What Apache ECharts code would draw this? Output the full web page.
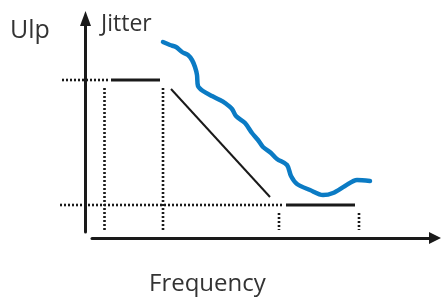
<!DOCTYPE html>
<html>
<head>
<meta charset="utf-8">
<script src="https://cdn.jsdelivr.net/npm/echarts@6/dist/echarts.min.js"></script>
<style>
  html, body { margin: 0; padding: 0; background: #fff; }
  #chart { width: 441px; height: 299px; }
</style>
</head>
<body>
<div id="chart"></div>
<script>
// schematic units: x = frequency, y = jitter (UI)
var upperLevel = 160;
var lowerLevel = 35;

var upperDotX = [12, 58];
var upperSolidX = [61, 110];
var lowerDotX = [10, 232];
var lowerSolidX = [236, 305];

var upperCornerX = [54.5, 113];
var upperCornerY = [152, 9];
var lowerCornerX = [229, 309];
var lowerCornerY = [27, 10];

var slopeX = [121, 220];
var slopeY = [151, 43];

var measuredX = [113, 120, 126, 132, 138, 142, 145, 147, 148, 153, 162, 170, 175, 182, 186,
  195, 202, 208, 213, 221, 227, 237, 241, 247, 260, 273, 283, 295, 307, 320];
var measuredY = [198, 195, 193, 188, 185, 180, 173, 165, 154, 149, 144, 140, 137, 131, 124,
  117, 107, 100, 93, 87, 81, 75, 64, 56, 50, 45, 47, 54, 60, 59];

var INK = '#1a1a1a';
var BLUE = '#0b7bc4';
var DOTS = [2, 2];

function zip(xs, ys) {
  return xs.map(function (x, i) { return [x, ys[i]]; });
}
function hLine(xs, y) {
  return [[xs[0], y], [xs[1], y]];
}
function vLine(x, ys) {
  return [[x, ys[0]], [x, ys[1]]];
}
function seg(data, width, type, color) {
  return {
    type: 'line',
    xAxisIndex: 0,
    yAxisIndex: 0,
    data: data,
    symbol: 'none',
    silent: true,
    lineStyle: { color: color || INK, width: width, type: type || 'solid', cap: 'butt' }
  };
}
function label(text, left, top, size) {
  return {
    text: text, left: left, top: top, padding: 0,
    textStyle: { fontFamily: 'Open Sans', fontWeight: 'normal', fontSize: size, color: '#333' }
  };
}

var hidden = { show: false };
var chart = echarts.init(document.getElementById('chart'));
chart.setOption({
  animation: false,
  title: [
    label('Ulp', 10, 18, 25),
    label('Jitter', 101, 13, 23),
    label('Frequency', 149, 272, 24)
  ],
  grid: [
    { left: 50, top: 0, width: 391, height: 240 },
    { left: 92, right: 6, top: 0, bottom: 61 },
    { left: 85.5, top: 18.5, width: 10, bottom: 67 }
  ],
  xAxis: [
    { type: 'value', gridIndex: 0, min: 0, max: 391, show: false },
    {
      type: 'value', gridIndex: 1, min: 0, max: 1,
      axisLine: { show: true, symbol: ['none', 'triangle'], symbolSize: [12, 12], lineStyle: { color: INK, width: 3 } },
      axisTick: hidden, axisLabel: hidden, splitLine: hidden
    },
    { type: 'value', gridIndex: 2, min: 0, max: 1, show: false }
  ],
  yAxis: [
    { type: 'value', gridIndex: 0, min: 0, max: 240, show: false },
    { type: 'value', gridIndex: 1, min: 0, max: 1, show: false },
    {
      type: 'value', gridIndex: 2, min: 0, max: 1,
      axisLine: { show: true, symbol: ['none', 'triangle'], symbolSize: [11, 15], lineStyle: { color: INK, width: 3 } },
      axisTick: hidden, axisLabel: hidden, splitLine: hidden
    }
  ],
  series: [
    seg(hLine(upperDotX, upperLevel), 2.6, DOTS),
    seg(hLine(upperSolidX, upperLevel), 3),
    seg(vLine(upperCornerX[0], upperCornerY), 2.6, DOTS),
    seg(vLine(upperCornerX[1], upperCornerY), 2.6, DOTS),
    seg(zip(slopeX, slopeY), 2),
    seg(hLine(lowerDotX, lowerLevel), 2.6, DOTS),
    seg(hLine(lowerSolidX, lowerLevel), 3),
    seg(vLine(lowerCornerX[0], lowerCornerY), 2.6, DOTS),
    seg(vLine(lowerCornerX[1], lowerCornerY), 2.6, DOTS),
    {
      type: 'line',
      data: zip(measuredX, measuredY),
      symbol: 'none',
      smooth: 0.3,
      silent: true,
      lineStyle: { color: BLUE, width: 4.5, cap: 'round', join: 'round' }
    }
  ]
});
</script>
</body>
</html>
